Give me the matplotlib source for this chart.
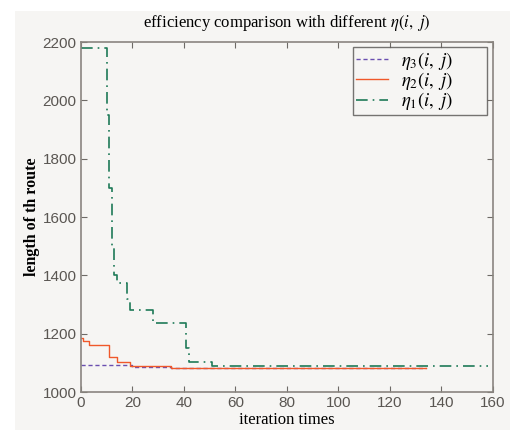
import numpy as np
import matplotlib
matplotlib.use("Agg")
from matplotlib import pyplot as plt
from matplotlib.patches import Rectangle

# data: iteration where a value starts, and the value
eta1_x = [0, 10, 11, 12, 13, 14, 18, 19, 28, 41, 42, 51, 158]
eta1_y = [2180, 1950, 1700, 1500, 1400, 1375, 1320, 1281, 1237, 1150, 1103, 1090, 1090]
eta2_x = [0, 1, 3, 11, 14, 19, 35, 134]
eta2_y = [1185, 1175, 1163, 1119, 1102, 1089, 1084, 1084]
eta3_x = [0, 20, 35, 134]
eta3_y = [1093, 1086, 1084, 1084]

xticks = [0, 20, 40, 60, 80, 100, 120, 140, 160]
yticks = [1000, 1200, 1400, 1600, 1800, 2000, 2200]

plt.rcParams['mathtext.fontset'] = 'stix'
bg = '#f6f5f3'
pad = '      '   # matlab legends leave empty room right of the text

fig = plt.figure(figsize=(5.15, 4.3), dpi=100)
fig.patch.set_facecolor('white')
fig.patches.append(Rectangle((0.03, 0.0), 0.96, 0.975, transform=fig.transFigure,
                             facecolor=bg, edgecolor='none', zorder=-10))
ax = fig.add_axes([0.157, 0.088, 0.8, 0.814])
ax.set_facecolor(bg)

ax.plot(eta3_x, eta3_y, drawstyle='steps-post', ls=(0, (3, 2)), color='#6a4fb0', lw=1.0,
        label=r'$\eta_3(i,\ j)$' + pad)
ax.plot(eta2_x, eta2_y, drawstyle='steps-post', ls='-', color='#f0582a', lw=1.0,
        label=r'$\eta_2(i,\ j)$' + pad)
ax.plot(eta1_x, eta1_y, drawstyle='steps-post', ls=(0, (7, 3, 1, 3)), color='#1e7a58', lw=1.2,
        label=r'$\eta_1(i,\ j)$' + pad)

ax.set_xlim(0, 160)
ax.set_ylim(1000, 2200)
ax.set_xticks(xticks)
ax.set_yticks(yticks)
ax.tick_params(direction='in', top=True, right=True, length=4, colors='#6e6a66',
               labelcolor='#5a5652', labelsize=11, pad=3)
for s in ax.spines.values():
    s.set_color('#8a8580')
    s.set_linewidth(1.2)
for lab in ax.get_xticklabels() + ax.get_yticklabels():
    lab.set_family('Liberation Sans')

ax.set_title(r'efficiency comparison with different $\eta(i,\ j)$',
             family='Liberation Serif', fontsize=12, pad=11)
ax.set_xlabel('iteration times', family='Liberation Serif', fontsize=12, labelpad=1)
ax.set_ylabel('length of th route', family='Liberation Serif', fontsize=11.5,
              fontweight='bold', labelpad=2)

leg = ax.legend(loc='upper right', bbox_to_anchor=(0.985, 0.986), fontsize=13.5,
                frameon=True, fancybox=False, handlelength=1.7, labelspacing=-0.1,
                borderpad=0.15, handletextpad=0.7, borderaxespad=0)
leg.get_frame().set_edgecolor('#555250')
leg.get_frame().set_facecolor(bg)
leg.get_frame().set_linewidth(1.0)

plt.savefig('out.png', dpi=100, facecolor=fig.get_facecolor())
